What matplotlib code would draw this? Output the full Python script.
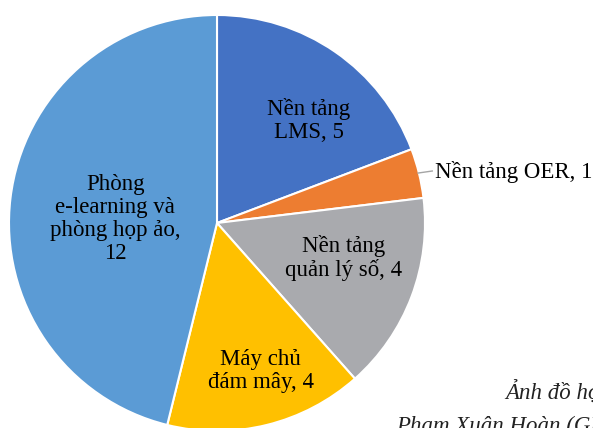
import matplotlib.pyplot as plt

labels = ['Nền tảng\nLMS', 'Nền tảng OER', 'Nền tảng\nquản lý số',
          'Máy chủ\nđám mây', 'Phòng\ne-learning và\nphòng họp ảo,\n']
values = [5, 1, 4, 4, 12]
colors = ['#4472C4', '#ED7D31', '#A9AAAE', '#FFC000', '#5B9BD5']

# label spots (axes data units, pie radius = 1)
label_pos = [(0.44, 0.495), (1.05, 0.245), (0.61, -0.17), (0.21, -0.71), (-0.49, 0.02)]

plt.rcParams['font.family'] = ['Liberation Serif', 'DejaVu Serif']
fs = 16.5

fig = plt.figure(figsize=(5.93, 4.28), dpi=100)
ax = fig.add_axes([9 / 593, -3 / 428, 416 / 593, 416 / 428])
ax.pie(values, colors=colors, startangle=90, counterclock=False, radius=1,
       wedgeprops=dict(edgecolor='white', linewidth=1.5))
ax.set_xlim(-1, 1)
ax.set_ylim(-1, 1)
ax.set_aspect('equal')
ax.axis('off')

for i, (lab, v) in enumerate(zip(labels, values)):
    x, y = label_pos[i]
    if i == 1:
        ax.plot([0.966, 1.035], [0.24, 0.25], color='#A5A5A5', lw=1, clip_on=False)
        ax.text(x, y, f'{lab}, {v}', ha='left', va='center', fontsize=fs,
                color='black', clip_on=False)
    elif i == 4:
        ax.text(x, y, f'{lab}{v}', ha='center', va='center', fontsize=fs,
                color='black', linespacing=1.12)
    else:
        ax.text(x, y, f'{lab}, {v}', ha='center', va='center', fontsize=fs,
                color='black', linespacing=1.12)

fig.text(505 / 593, 1 - 400 / 428, 'Ảnh đồ họa:', style='italic', fontsize=fs,
         color='#222222', ha='left', va='baseline')
fig.text(396 / 593, 1 - 432 / 428, 'Phạm Xuân Hoàn (GD&TĐ)', style='italic', fontsize=fs,
         color='#222222', ha='left', va='baseline')

fig.savefig('out.png', dpi=100)
